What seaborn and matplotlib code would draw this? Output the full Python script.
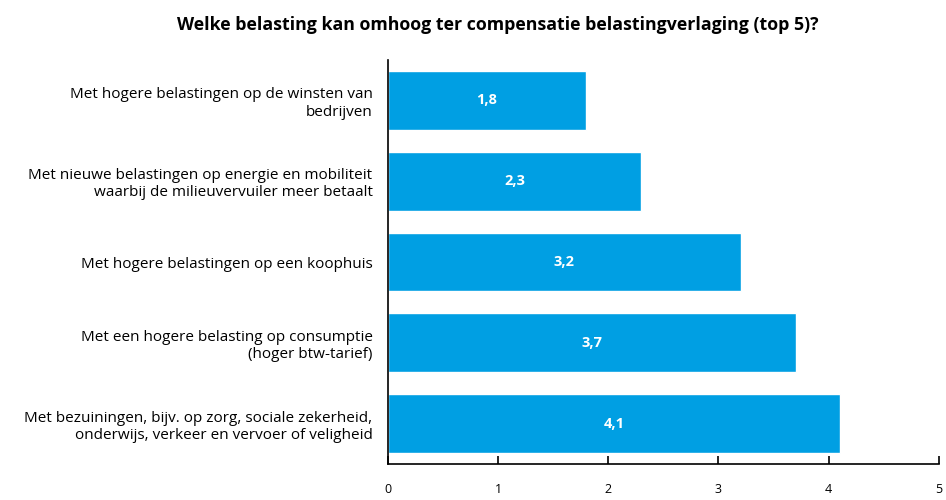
import matplotlib
matplotlib.use("Agg")
import matplotlib.pyplot as plt
import pandas as pd
import seaborn as sns

# ----- Data -----
categories = [
    "Met hogere belastingen op de winsten van\nbedrijven",
    "Met nieuwe belastingen op energie en mobiliteit\nwaarbij de milieuvervuiler meer betaalt",
    "Met hogere belastingen op een koophuis",
    "Met een hogere belasting op consumptie\n(hoger btw-tarief)",
    "Met bezuiningen, bijv. op zorg, sociale zekerheid,\nonderwijs, verkeer en vervoer of veligheid",
]
values = [1.8, 2.3, 3.2, 3.7, 4.1]
value_labels = ["1,8", "2,3", "3,2", "3,7", "4,1"]
x_ticks = [0, 1, 2, 3, 4, 5]

title = "Welke belasting kan omhoog ter compensatie belastingverlaging (top 5)?"
bar_color = "#009fe3"

df = pd.DataFrame({"categorie": categories, "score": values})

sns.set_style("white")
plt.rcParams["font.family"] = ["Open Sans", "DejaVu Sans"]
plt.rcParams["text.color"] = "#000000"

fig = plt.figure(figsize=(9.46, 5.0), dpi=100)
ax = fig.add_axes([0.410, 0.072, 0.5825, 0.808])

sns.barplot(
    data=df, x="score", y="categorie", orient="h",
    color=bar_color, saturation=1, width=0.73, ax=ax,
)

# value labels in the middle of each bar
for i, (v, lab) in enumerate(zip(values, value_labels)):
    ax.text(v / 2, i, lab, ha="center", va="center",
            color="white", fontsize=10.5, fontweight="bold")

ax.set_xlim(0, 5)
ax.set_ylim(4.5, -0.5)
ax.set_xticks(x_ticks)
ax.set_xticklabels([str(t) for t in x_ticks])
ax.set_xlabel("")
ax.set_ylabel("")

ax.tick_params(axis="x", direction="in", length=6, width=1.2, pad=14,
               labelsize=9, bottom=True, colors="#000000")
ax.tick_params(axis="y", length=0, pad=11, labelsize=11, labelcolor="#000000")
for lab in ax.get_yticklabels():
    lab.set_horizontalalignment("right")
    lab.set_multialignment("right")

sns.despine(ax=ax, top=True, right=True)
ax.spines["left"].set_color("#000000")
ax.spines["bottom"].set_color("#000000")
ax.spines["left"].set_linewidth(1.2)
ax.spines["bottom"].set_linewidth(1.2)

fig.text(0.526, 0.95, title, ha="center", va="center",
         fontsize=12.8, fontweight="bold", color="#000000")

fig.savefig("out.png", dpi=100)
plt.close(fig)
